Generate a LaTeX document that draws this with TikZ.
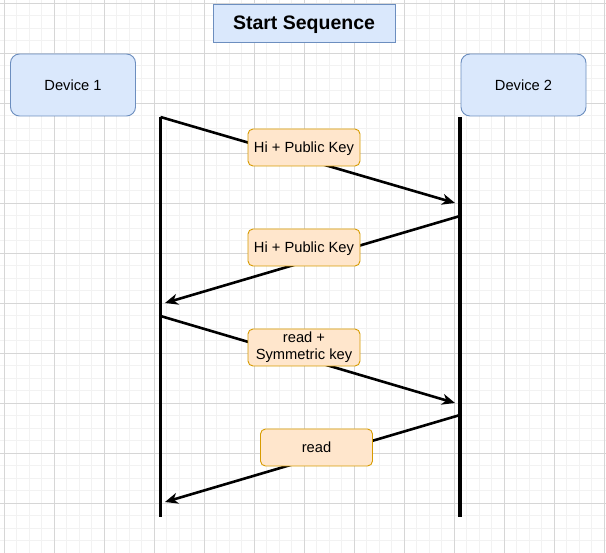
\documentclass[tikz,border=0pt]{standalone}
\usepackage{fontspec}
\setmainfont{Liberation Sans}
\usetikzlibrary{arrows.meta}
\definecolor{bluefill}{HTML}{DAE8FC}
\definecolor{blueline}{HTML}{6C8EBF}
\definecolor{orangefill}{HTML}{FFE6CC}
\definecolor{orangeline}{HTML}{D79B00}
\definecolor{minorgrid}{HTML}{F2F2F2}
\definecolor{majorgrid}{HTML}{D6D6D6}
\tikzset{
  minorline/.style={draw=minorgrid, line width=0.8pt},
  majorline/.style={draw=majorgrid, line width=0.9pt},
  titlebox/.style={draw=blueline, fill=bluefill, line width=0.9pt, minimum width=182pt, minimum height=38pt, inner sep=0pt, text depth=0pt, font=\fontsize{19.5}{21}\selectfont\bfseries},
  devicebox/.style={draw=blueline, fill=bluefill, line width=0.9pt, rounded corners=9pt, minimum width=125pt, minimum height=62pt, inner sep=0pt, font=\fontsize{14.7}{17}\selectfont},
  msgbox/.style={draw=orangeline, fill=orangefill, line width=0.9pt, rounded corners=5pt, minimum width=112pt, minimum height=37pt, inner sep=0pt, align=center, font=\fontsize{14.7}{17}\selectfont},
  nodepth/.style={text depth=0pt},
  lifeline/.style={draw=black, line width=3.7pt},
  msgarrow/.style={draw=black, line width=2.6pt, -{Stealth[length=13pt,width=11pt,inset=4pt]}}
}
\begin{document}
\begin{tikzpicture}[x=1pt,y=-1pt]
\useasboundingbox (0,0) rectangle (606,553);
\fill[white] (0,0) rectangle (606,553);
% grid
\foreach \i in {0,...,48} { \draw[minorline] ({4.3+12.5*\i},0) -- ({4.3+12.5*\i},553); }
\foreach \j in {0,...,43} { \draw[minorline] (0,{3.3+12.5*\j}) -- (606,{3.3+12.5*\j}); }
\foreach \i in {0,...,12} { \draw[majorline] ({4.3+50*\i},0) -- ({4.3+50*\i},553); }
\foreach \j in {0,...,10} { \draw[majorline] (0,{3.3+50*\j}) -- (606,{3.3+50*\j}); }

% title and devices
\node[titlebox] (title) at (304,23) {Start Sequence};
\node[devicebox] (dev1) at (73,85) {Device 1};
\node[devicebox] (dev2) at (523.5,85) {Device 2};

% lifelines
\coordinate (l1top) at (160.5,117);
\coordinate (l1bot) at (160.5,517);
\coordinate (l2top) at (460,117);
\coordinate (l2bot) at (460,517);
\draw[lifeline] (l1top) -- (l1bot);
\draw[lifeline] (l2top) -- (l2bot);

% message end points
\coordinate (m1s) at (160.5,117);
\coordinate (m1e) at (455,203);
\coordinate (m2s) at (460,216);
\coordinate (m2e) at (165,303);
\coordinate (m3s) at (160.5,316);
\coordinate (m3e) at (455,403);
\coordinate (m4s) at (460,415);
\coordinate (m4e) at (165,502);

\draw[msgarrow] (m1s) -- (m1e);
\draw[msgarrow] (m2s) -- (m2e);
\draw[msgarrow] (m3s) -- (m3e);
\draw[msgarrow] (m4s) -- (m4e);

% labels
\node[msgbox, nodepth] (lbl1) at (304,147.5) {Hi + Public Key};
\node[msgbox, nodepth] (lbl2) at (304,247.5) {Hi + Public Key};
\node[msgbox] (lbl3) at (304,347.5) {read +\\Symmetric key};
\node[msgbox] (lbl4) at (316.5,447.5) {read};
\end{tikzpicture}
\end{document}
